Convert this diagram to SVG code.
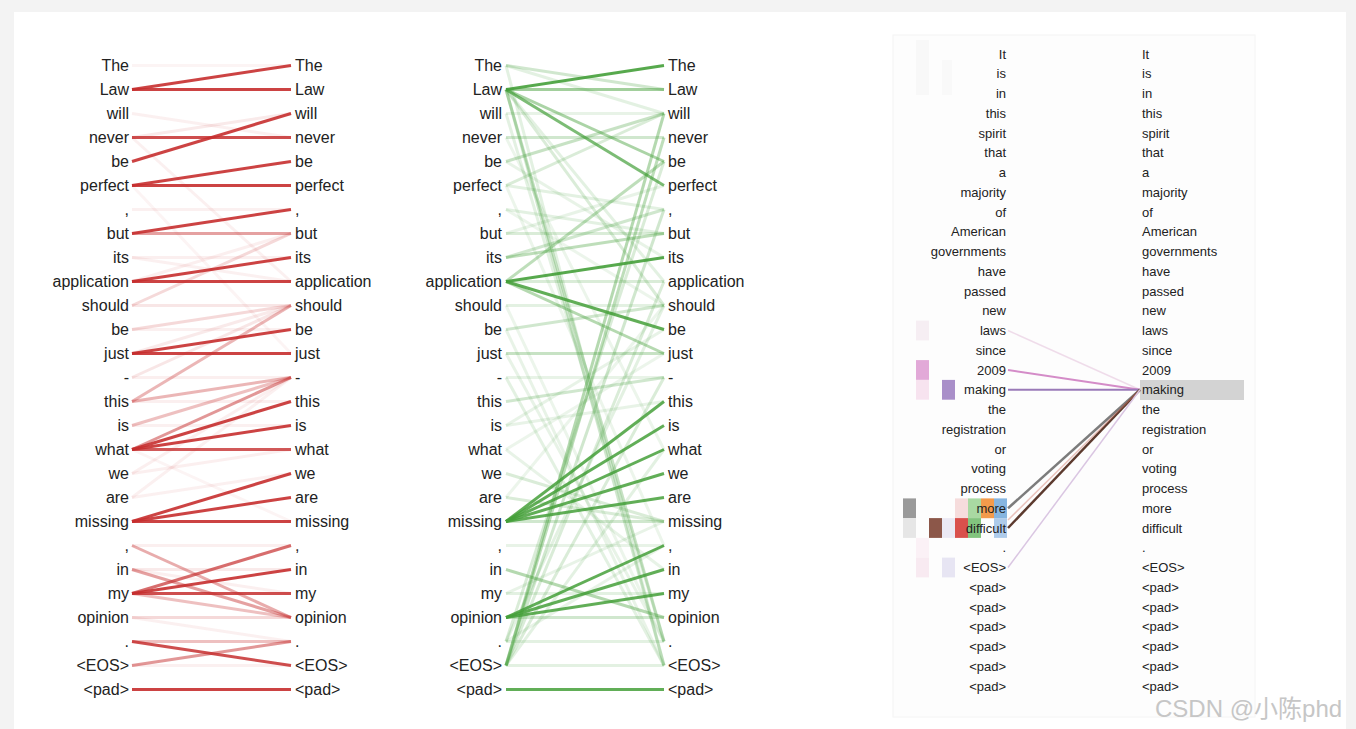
<svg xmlns="http://www.w3.org/2000/svg" width="1356" height="729" viewBox="0 0 1356 729">
<style>
text{font-family:"Liberation Sans",Arial,sans-serif;fill:#222}
.t{font-size:16px}
.s{font-size:13px}
.e{text-anchor:end}
.r{stroke:#c62f2f;stroke-width:3}
.g{stroke:#45a03a;stroke-width:3}
.wm{font-family:"Liberation Sans","Noto Sans CJK SC",sans-serif;font-size:24px;fill:#c6c6c6}
</style>
<rect x="0" y="0" width="1356" height="729" fill="#f3f3f3"/>
<rect x="14" y="12" width="1332" height="717" fill="#ffffff"/>
<rect x="893" y="35" width="362" height="682" fill="#fdfdfd" stroke="#f4f4f4"/>
<g id="heat">
<rect x="916" y="40" width="13" height="55" fill="#f8f8f8"/>
<rect x="942" y="60" width="10" height="35" fill="#f9f9f9"/>
<rect x="916" y="320.6" width="13" height="19.8" fill="#f6eef3"/>
<rect x="916" y="360.1" width="13" height="19.8" fill="#e2a9d8"/>
<rect x="916" y="379.9" width="13" height="19.8" fill="#f7e3ef"/>
<rect x="942" y="379.9" width="13" height="19.8" fill="#a98fc9"/>
<rect x="903" y="498.4" width="13" height="19.8" fill="#9a9a9a"/>
<rect x="955" y="498.4" width="13" height="19.8" fill="#f6dcdc"/>
<rect x="968" y="498.4" width="13" height="19.8" fill="#a9d9a2"/>
<rect x="981" y="498.4" width="13" height="19.8" fill="#f39b4c"/>
<rect x="994" y="498.4" width="13" height="19.8" fill="#86b5e0"/>
<rect x="903" y="518.1" width="13" height="19.8" fill="#e6e6e6"/>
<rect x="929" y="518.1" width="13" height="19.8" fill="#8c5749"/>
<rect x="942" y="518.1" width="13" height="19.8" fill="#ebe9f4"/>
<rect x="955" y="518.1" width="13" height="19.8" fill="#d9504c"/>
<rect x="968" y="518.1" width="13" height="19.8" fill="#82c47e"/>
<rect x="994" y="518.1" width="13" height="19.8" fill="#aecbea"/>
<rect x="916" y="537.9" width="13" height="19.8" fill="#fbf1f6"/>
<rect x="916" y="557.6" width="13" height="19.8" fill="#f8eaf1"/>
<rect x="942" y="557.6" width="13" height="19.8" fill="#e7e5f3"/>
<rect x="1140" y="380" width="104" height="20" fill="#d3d3d3"/>
</g>
<g id="connectors" fill="none">
<g id="red-lines">
<line x1="132" y1="89.5" x2="291" y2="65.5" class="r" stroke-opacity=".9"/>
<line x1="132" y1="89.5" x2="291" y2="89.5" class="r" stroke-opacity=".9"/>
<line x1="132" y1="137.5" x2="291" y2="137.5" class="r" stroke-opacity=".85"/>
<line x1="132" y1="161.5" x2="291" y2="113.5" class="r" stroke-opacity=".9"/>
<line x1="132" y1="185.5" x2="291" y2="161.5" class="r" stroke-opacity=".9"/>
<line x1="132" y1="185.5" x2="291" y2="185.5" class="r" stroke-opacity=".9"/>
<line x1="132" y1="233.5" x2="291" y2="209.5" class="r" stroke-opacity=".9"/>
<line x1="132" y1="281.5" x2="291" y2="257.5" class="r" stroke-opacity=".9"/>
<line x1="132" y1="281.5" x2="291" y2="281.5" class="r" stroke-opacity=".9"/>
<line x1="132" y1="353.5" x2="291" y2="329.5" class="r" stroke-opacity=".9"/>
<line x1="132" y1="353.5" x2="291" y2="353.5" class="r" stroke-opacity=".9"/>
<line x1="132" y1="449.5" x2="291" y2="401.5" class="r" stroke-opacity=".9"/>
<line x1="132" y1="449.5" x2="291" y2="425.5" class="r" stroke-opacity=".9"/>
<line x1="132" y1="449.5" x2="291" y2="449.5" class="r" stroke-opacity=".8"/>
<line x1="132" y1="521.5" x2="291" y2="473.5" class="r" stroke-opacity=".9"/>
<line x1="132" y1="521.5" x2="291" y2="497.5" class="r" stroke-opacity=".9"/>
<line x1="132" y1="521.5" x2="291" y2="521.5" class="r" stroke-opacity=".9"/>
<line x1="132" y1="593.5" x2="291" y2="545.5" class="r" stroke-opacity=".7"/>
<line x1="132" y1="593.5" x2="291" y2="569.5" class="r" stroke-opacity=".9"/>
<line x1="132" y1="593.5" x2="291" y2="593.5" class="r" stroke-opacity=".85"/>
<line x1="132" y1="641.5" x2="291" y2="665.5" class="r" stroke-opacity=".85"/>
<line x1="132" y1="689.5" x2="291" y2="689.5" class="r" stroke-opacity=".9"/>
<line x1="132" y1="233.5" x2="291" y2="233.5" class="r" stroke-opacity=".45"/>
<line x1="132" y1="449.5" x2="291" y2="377.5" class="r" stroke-opacity=".5"/>
<line x1="132" y1="665.5" x2="291" y2="641.5" class="r" stroke-opacity=".5"/>
<line x1="132" y1="545.5" x2="291" y2="617.5" class="r" stroke-opacity=".4"/>
<line x1="132" y1="569.5" x2="291" y2="617.5" class="r" stroke-opacity=".45"/>
<line x1="132" y1="593.5" x2="291" y2="617.5" class="r" stroke-opacity=".3"/>
<line x1="132" y1="401.5" x2="291" y2="377.5" class="r" stroke-opacity=".35"/>
<line x1="132" y1="425.5" x2="291" y2="377.5" class="r" stroke-opacity=".3"/>
<line x1="132" y1="401.5" x2="291" y2="305.5" class="r" stroke-opacity=".35"/>
<line x1="132" y1="641.5" x2="291" y2="641.5" class="r" stroke-opacity=".3"/>
<line x1="132" y1="305.5" x2="291" y2="233.5" class="r" stroke-opacity=".18"/>
<line x1="132" y1="305.5" x2="291" y2="305.5" class="r" stroke-opacity=".12"/>
<line x1="132" y1="329.5" x2="291" y2="305.5" class="r" stroke-opacity=".18"/>
<line x1="132" y1="257.5" x2="291" y2="257.5" class="r" stroke-opacity=".08"/>
<line x1="132" y1="617.5" x2="291" y2="617.5" class="r" stroke-opacity=".18"/>
<line x1="132" y1="377.5" x2="291" y2="305.5" class="r" stroke-opacity=".12"/>
<line x1="132" y1="353.5" x2="291" y2="305.5" class="r" stroke-opacity=".1"/>
<line x1="132" y1="137.5" x2="291" y2="113.5" class="r" stroke-opacity=".1"/>
<line x1="132" y1="113.5" x2="291" y2="137.5" class="r" stroke-opacity=".07"/>
<line x1="132" y1="65.5" x2="291" y2="65.5" class="r" stroke-opacity=".05"/>
<line x1="132" y1="473.5" x2="291" y2="449.5" class="r" stroke-opacity=".08"/>
<line x1="132" y1="497.5" x2="291" y2="473.5" class="r" stroke-opacity=".07"/>
<line x1="132" y1="377.5" x2="291" y2="377.5" class="r" stroke-opacity=".08"/>
<line x1="132" y1="545.5" x2="291" y2="545.5" class="r" stroke-opacity=".08"/>
<line x1="132" y1="569.5" x2="291" y2="569.5" class="r" stroke-opacity=".1"/>
<line x1="132" y1="209.5" x2="291" y2="209.5" class="r" stroke-opacity=".07"/>
<line x1="132" y1="425.5" x2="291" y2="425.5" class="r" stroke-opacity=".07"/>
<line x1="132" y1="137.5" x2="291" y2="281.5" class="r" stroke-opacity=".07"/>
<line x1="132" y1="185.5" x2="291" y2="353.5" class="r" stroke-opacity=".05"/>
<line x1="132" y1="473.5" x2="291" y2="377.5" class="r" stroke-opacity=".08"/>
<line x1="132" y1="497.5" x2="291" y2="377.5" class="r" stroke-opacity=".07"/>
<line x1="132" y1="449.5" x2="291" y2="521.5" class="r" stroke-opacity=".05"/>
<line x1="132" y1="617.5" x2="291" y2="641.5" class="r" stroke-opacity=".07"/>
<line x1="132" y1="665.5" x2="291" y2="665.5" class="r" stroke-opacity=".07"/>
<line x1="132" y1="569.5" x2="291" y2="593.5" class="r" stroke-opacity=".08"/>
<line x1="132" y1="329.5" x2="291" y2="329.5" class="r" stroke-opacity=".07"/>
<line x1="132" y1="401.5" x2="291" y2="401.5" class="r" stroke-opacity=".08"/>
<line x1="132" y1="281.5" x2="291" y2="233.5" class="r" stroke-opacity=".08"/>
<line x1="132" y1="257.5" x2="291" y2="281.5" class="r" stroke-opacity=".07"/>
</g>
<g id="green-lines">
<line x1="506" y1="89.5" x2="664" y2="65.5" class="g" stroke-opacity=".9"/>
<line x1="506" y1="281.5" x2="664" y2="257.5" class="g" stroke-opacity=".9"/>
<line x1="506" y1="281.5" x2="664" y2="329.5" class="g" stroke-opacity=".85"/>
<line x1="506" y1="521.5" x2="664" y2="401.5" class="g" stroke-opacity=".85"/>
<line x1="506" y1="521.5" x2="664" y2="425.5" class="g" stroke-opacity=".85"/>
<line x1="506" y1="521.5" x2="664" y2="449.5" class="g" stroke-opacity=".85"/>
<line x1="506" y1="521.5" x2="664" y2="473.5" class="g" stroke-opacity=".85"/>
<line x1="506" y1="521.5" x2="664" y2="497.5" class="g" stroke-opacity=".85"/>
<line x1="506" y1="617.5" x2="664" y2="545.5" class="g" stroke-opacity=".85"/>
<line x1="506" y1="617.5" x2="664" y2="569.5" class="g" stroke-opacity=".85"/>
<line x1="506" y1="617.5" x2="664" y2="593.5" class="g" stroke-opacity=".85"/>
<line x1="506" y1="689.5" x2="664" y2="689.5" class="g" stroke-opacity=".85"/>
<line x1="506" y1="89.5" x2="664" y2="185.5" class="g" stroke-opacity=".7"/>
<line x1="506" y1="89.5" x2="664" y2="89.5" class="g" stroke-opacity=".5"/>
<line x1="506" y1="89.5" x2="664" y2="161.5" class="g" stroke-opacity=".45"/>
<line x1="506" y1="281.5" x2="664" y2="353.5" class="g" stroke-opacity=".4"/>
<line x1="506" y1="665.5" x2="664" y2="113.5" class="g" stroke-opacity=".4"/>
<line x1="506" y1="665.5" x2="664" y2="137.5" class="g" stroke-opacity=".35"/>
<line x1="506" y1="281.5" x2="664" y2="161.5" class="g" stroke-opacity=".35"/>
<line x1="506" y1="257.5" x2="664" y2="233.5" class="g" stroke-opacity=".35"/>
<line x1="506" y1="569.5" x2="664" y2="617.5" class="g" stroke-opacity=".4"/>
<line x1="506" y1="161.5" x2="664" y2="113.5" class="g" stroke-opacity=".3"/>
<line x1="506" y1="89.5" x2="664" y2="641.5" class="g" stroke-opacity=".3"/>
<line x1="506" y1="89.5" x2="664" y2="665.5" class="g" stroke-opacity=".25"/>
<line x1="506" y1="89.5" x2="664" y2="305.5" class="g" stroke-opacity=".2"/>
<line x1="506" y1="89.5" x2="664" y2="281.5" class="g" stroke-opacity=".15"/>
<line x1="506" y1="65.5" x2="664" y2="89.5" class="g" stroke-opacity=".25"/>
<line x1="506" y1="65.5" x2="664" y2="113.5" class="g" stroke-opacity=".15"/>
<line x1="506" y1="137.5" x2="664" y2="137.5" class="g" stroke-opacity=".25"/>
<line x1="506" y1="185.5" x2="664" y2="113.5" class="g" stroke-opacity=".2"/>
<line x1="506" y1="233.5" x2="664" y2="233.5" class="g" stroke-opacity=".2"/>
<line x1="506" y1="257.5" x2="664" y2="209.5" class="g" stroke-opacity=".25"/>
<line x1="506" y1="305.5" x2="664" y2="305.5" class="g" stroke-opacity=".15"/>
<line x1="506" y1="329.5" x2="664" y2="305.5" class="g" stroke-opacity=".25"/>
<line x1="506" y1="353.5" x2="664" y2="353.5" class="g" stroke-opacity=".3"/>
<line x1="506" y1="401.5" x2="664" y2="377.5" class="g" stroke-opacity=".25"/>
<line x1="506" y1="425.5" x2="664" y2="401.5" class="g" stroke-opacity=".12"/>
<line x1="506" y1="521.5" x2="664" y2="521.5" class="g" stroke-opacity=".25"/>
<line x1="506" y1="617.5" x2="664" y2="617.5" class="g" stroke-opacity=".25"/>
<line x1="506" y1="641.5" x2="664" y2="641.5" class="g" stroke-opacity=".15"/>
<line x1="506" y1="665.5" x2="664" y2="209.5" class="g" stroke-opacity=".25"/>
<line x1="506" y1="665.5" x2="664" y2="281.5" class="g" stroke-opacity=".2"/>
<line x1="506" y1="665.5" x2="664" y2="377.5" class="g" stroke-opacity=".2"/>
<line x1="506" y1="641.5" x2="664" y2="161.5" class="g" stroke-opacity=".2"/>
<line x1="506" y1="641.5" x2="664" y2="305.5" class="g" stroke-opacity=".15"/>
<line x1="506" y1="65.5" x2="664" y2="665.5" class="g" stroke-opacity=".15"/>
<line x1="506" y1="113.5" x2="664" y2="641.5" class="g" stroke-opacity=".15"/>
<line x1="506" y1="377.5" x2="664" y2="665.5" class="g" stroke-opacity=".15"/>
<line x1="506" y1="473.5" x2="664" y2="521.5" class="g" stroke-opacity=".2"/>
<line x1="506" y1="497.5" x2="664" y2="521.5" class="g" stroke-opacity=".2"/>
<line x1="506" y1="449.5" x2="664" y2="569.5" class="g" stroke-opacity=".12"/>
<line x1="506" y1="545.5" x2="664" y2="545.5" class="g" stroke-opacity=".12"/>
<line x1="506" y1="593.5" x2="664" y2="593.5" class="g" stroke-opacity=".15"/>
<line x1="506" y1="665.5" x2="664" y2="665.5" class="g" stroke-opacity=".15"/>
<line x1="506" y1="329.5" x2="664" y2="665.5" class="g" stroke-opacity=".12"/>
<line x1="506" y1="161.5" x2="664" y2="257.5" class="g" stroke-opacity=".12"/>
<line x1="506" y1="209.5" x2="664" y2="233.5" class="g" stroke-opacity=".15"/>
<line x1="506" y1="137.5" x2="664" y2="449.5" class="g" stroke-opacity=".1"/>
<line x1="506" y1="185.5" x2="664" y2="545.5" class="g" stroke-opacity=".1"/>
<line x1="506" y1="305.5" x2="664" y2="641.5" class="g" stroke-opacity=".1"/>
<line x1="506" y1="353.5" x2="664" y2="641.5" class="g" stroke-opacity=".12"/>
<line x1="506" y1="425.5" x2="664" y2="329.5" class="g" stroke-opacity=".12"/>
<line x1="506" y1="449.5" x2="664" y2="353.5" class="g" stroke-opacity=".1"/>
<line x1="506" y1="665.5" x2="664" y2="449.5" class="g" stroke-opacity=".15"/>
<line x1="506" y1="641.5" x2="664" y2="545.5" class="g" stroke-opacity=".12"/>
<line x1="506" y1="377.5" x2="664" y2="377.5" class="g" stroke-opacity=".12"/>
<line x1="506" y1="185.5" x2="664" y2="209.5" class="g" stroke-opacity=".15"/>
<line x1="506" y1="281.5" x2="664" y2="281.5" class="g" stroke-opacity=".2"/>
<line x1="506" y1="113.5" x2="664" y2="113.5" class="g" stroke-opacity=".12"/>
<line x1="506" y1="209.5" x2="664" y2="305.5" class="g" stroke-opacity=".1"/>
<line x1="506" y1="233.5" x2="664" y2="185.5" class="g" stroke-opacity=".12"/>
<line x1="506" y1="497.5" x2="664" y2="305.5" class="g" stroke-opacity=".1"/>
<line x1="506" y1="593.5" x2="664" y2="521.5" class="g" stroke-opacity=".12"/>
</g>
<g id="right-lines">
<line x1="1008" y1="330.5" x2="1140" y2="389.75" stroke="#e6c6de" stroke-width="1.5" stroke-opacity=".6"/>
<line x1="1008" y1="370" x2="1140" y2="389.75" stroke="#d48cc8" stroke-width="2"/>
<line x1="1008" y1="389.75" x2="1140" y2="389.75" stroke="#9a7ab8" stroke-width="2"/>
<line x1="1008" y1="508.25" x2="1140" y2="389.75" stroke="#7c7c7c" stroke-width="2.5"/>
<line x1="1008" y1="528" x2="1140" y2="389.75" stroke="#5c3a2e" stroke-width="2.5"/>
<line x1="1008" y1="520" x2="1140" y2="389.75" stroke="#d27a6a" stroke-width="1.5" stroke-opacity=".45"/>
<line x1="1008" y1="567.5" x2="1140" y2="389.75" stroke="#dac6e2" stroke-width="1.5"/>
</g>
</g>
<g id="red-panel" class="t">
<g id="rl0"><text class="e" x="129" y="71">The</text></g>
<g id="rl1"><text class="e" x="129" y="95">Law</text></g>
<g id="rl2"><text class="e" x="129" y="119">will</text></g>
<g id="rl3"><text class="e" x="129" y="143">never</text></g>
<g id="rl4"><text class="e" x="129" y="167">be</text></g>
<g id="rl5"><text class="e" x="129" y="191">perfect</text></g>
<g id="rl6"><text class="e" x="129" y="215">,</text></g>
<g id="rl7"><text class="e" x="129" y="239">but</text></g>
<g id="rl8"><text class="e" x="129" y="263">its</text></g>
<g id="rl9"><text class="e" x="129" y="287">application</text></g>
<g id="rl10"><text class="e" x="129" y="311">should</text></g>
<g id="rl11"><text class="e" x="129" y="335">be</text></g>
<g id="rl12"><text class="e" x="129" y="359">just</text></g>
<g id="rl13"><text class="e" x="129" y="383">-</text></g>
<g id="rl14"><text class="e" x="129" y="407">this</text></g>
<g id="rl15"><text class="e" x="129" y="431">is</text></g>
<g id="rl16"><text class="e" x="129" y="455">what</text></g>
<g id="rl17"><text class="e" x="129" y="479">we</text></g>
<g id="rl18"><text class="e" x="129" y="503">are</text></g>
<g id="rl19"><text class="e" x="129" y="527">missing</text></g>
<g id="rl20"><text class="e" x="129" y="551">,</text></g>
<g id="rl21"><text class="e" x="129" y="575">in</text></g>
<g id="rl22"><text class="e" x="129" y="599">my</text></g>
<g id="rl23"><text class="e" x="129" y="623">opinion</text></g>
<g id="rl24"><text class="e" x="129" y="647">.</text></g>
<g id="rl25"><text class="e" x="129" y="671">&lt;EOS&gt;</text></g>
<g id="rl26"><text class="e" x="129" y="695">&lt;pad&gt;</text></g>
<g id="rr0"><text x="295" y="71">The</text></g>
<g id="rr1"><text x="295" y="95">Law</text></g>
<g id="rr2"><text x="295" y="119">will</text></g>
<g id="rr3"><text x="295" y="143">never</text></g>
<g id="rr4"><text x="295" y="167">be</text></g>
<g id="rr5"><text x="295" y="191">perfect</text></g>
<g id="rr6"><text x="295" y="215">,</text></g>
<g id="rr7"><text x="295" y="239">but</text></g>
<g id="rr8"><text x="295" y="263">its</text></g>
<g id="rr9"><text x="295" y="287">application</text></g>
<g id="rr10"><text x="295" y="311">should</text></g>
<g id="rr11"><text x="295" y="335">be</text></g>
<g id="rr12"><text x="295" y="359">just</text></g>
<g id="rr13"><text x="295" y="383">-</text></g>
<g id="rr14"><text x="295" y="407">this</text></g>
<g id="rr15"><text x="295" y="431">is</text></g>
<g id="rr16"><text x="295" y="455">what</text></g>
<g id="rr17"><text x="295" y="479">we</text></g>
<g id="rr18"><text x="295" y="503">are</text></g>
<g id="rr19"><text x="295" y="527">missing</text></g>
<g id="rr20"><text x="295" y="551">,</text></g>
<g id="rr21"><text x="295" y="575">in</text></g>
<g id="rr22"><text x="295" y="599">my</text></g>
<g id="rr23"><text x="295" y="623">opinion</text></g>
<g id="rr24"><text x="295" y="647">.</text></g>
<g id="rr25"><text x="295" y="671">&lt;EOS&gt;</text></g>
<g id="rr26"><text x="295" y="695">&lt;pad&gt;</text></g>
</g>
<g id="green-panel" class="t">
<g id="gl0"><text class="e" x="502" y="71">The</text></g>
<g id="gl1"><text class="e" x="502" y="95">Law</text></g>
<g id="gl2"><text class="e" x="502" y="119">will</text></g>
<g id="gl3"><text class="e" x="502" y="143">never</text></g>
<g id="gl4"><text class="e" x="502" y="167">be</text></g>
<g id="gl5"><text class="e" x="502" y="191">perfect</text></g>
<g id="gl6"><text class="e" x="502" y="215">,</text></g>
<g id="gl7"><text class="e" x="502" y="239">but</text></g>
<g id="gl8"><text class="e" x="502" y="263">its</text></g>
<g id="gl9"><text class="e" x="502" y="287">application</text></g>
<g id="gl10"><text class="e" x="502" y="311">should</text></g>
<g id="gl11"><text class="e" x="502" y="335">be</text></g>
<g id="gl12"><text class="e" x="502" y="359">just</text></g>
<g id="gl13"><text class="e" x="502" y="383">-</text></g>
<g id="gl14"><text class="e" x="502" y="407">this</text></g>
<g id="gl15"><text class="e" x="502" y="431">is</text></g>
<g id="gl16"><text class="e" x="502" y="455">what</text></g>
<g id="gl17"><text class="e" x="502" y="479">we</text></g>
<g id="gl18"><text class="e" x="502" y="503">are</text></g>
<g id="gl19"><text class="e" x="502" y="527">missing</text></g>
<g id="gl20"><text class="e" x="502" y="551">,</text></g>
<g id="gl21"><text class="e" x="502" y="575">in</text></g>
<g id="gl22"><text class="e" x="502" y="599">my</text></g>
<g id="gl23"><text class="e" x="502" y="623">opinion</text></g>
<g id="gl24"><text class="e" x="502" y="647">.</text></g>
<g id="gl25"><text class="e" x="502" y="671">&lt;EOS&gt;</text></g>
<g id="gl26"><text class="e" x="502" y="695">&lt;pad&gt;</text></g>
<g id="gr0"><text x="668" y="71">The</text></g>
<g id="gr1"><text x="668" y="95">Law</text></g>
<g id="gr2"><text x="668" y="119">will</text></g>
<g id="gr3"><text x="668" y="143">never</text></g>
<g id="gr4"><text x="668" y="167">be</text></g>
<g id="gr5"><text x="668" y="191">perfect</text></g>
<g id="gr6"><text x="668" y="215">,</text></g>
<g id="gr7"><text x="668" y="239">but</text></g>
<g id="gr8"><text x="668" y="263">its</text></g>
<g id="gr9"><text x="668" y="287">application</text></g>
<g id="gr10"><text x="668" y="311">should</text></g>
<g id="gr11"><text x="668" y="335">be</text></g>
<g id="gr12"><text x="668" y="359">just</text></g>
<g id="gr13"><text x="668" y="383">-</text></g>
<g id="gr14"><text x="668" y="407">this</text></g>
<g id="gr15"><text x="668" y="431">is</text></g>
<g id="gr16"><text x="668" y="455">what</text></g>
<g id="gr17"><text x="668" y="479">we</text></g>
<g id="gr18"><text x="668" y="503">are</text></g>
<g id="gr19"><text x="668" y="527">missing</text></g>
<g id="gr20"><text x="668" y="551">,</text></g>
<g id="gr21"><text x="668" y="575">in</text></g>
<g id="gr22"><text x="668" y="599">my</text></g>
<g id="gr23"><text x="668" y="623">opinion</text></g>
<g id="gr24"><text x="668" y="647">.</text></g>
<g id="gr25"><text x="668" y="671">&lt;EOS&gt;</text></g>
<g id="gr26"><text x="668" y="695">&lt;pad&gt;</text></g>
</g>
<g id="right-panel" class="s">
<g id="pl0"><text class="e" x="1006" y="58.5">It</text></g>
<g id="pl1"><text class="e" x="1006" y="78.25">is</text></g>
<g id="pl2"><text class="e" x="1006" y="98">in</text></g>
<g id="pl3"><text class="e" x="1006" y="117.75">this</text></g>
<g id="pl4"><text class="e" x="1006" y="137.5">spirit</text></g>
<g id="pl5"><text class="e" x="1006" y="157.25">that</text></g>
<g id="pl6"><text class="e" x="1006" y="177">a</text></g>
<g id="pl7"><text class="e" x="1006" y="196.75">majority</text></g>
<g id="pl8"><text class="e" x="1006" y="216.5">of</text></g>
<g id="pl9"><text class="e" x="1006" y="236.25">American</text></g>
<g id="pl10"><text class="e" x="1006" y="256">governments</text></g>
<g id="pl11"><text class="e" x="1006" y="275.75">have</text></g>
<g id="pl12"><text class="e" x="1006" y="295.5">passed</text></g>
<g id="pl13"><text class="e" x="1006" y="315.25">new</text></g>
<g id="pl14"><text class="e" x="1006" y="335">laws</text></g>
<g id="pl15"><text class="e" x="1006" y="354.75">since</text></g>
<g id="pl16"><text class="e" x="1006" y="374.5">2009</text></g>
<g id="pl17"><text class="e" x="1006" y="394.25">making</text></g>
<g id="pl18"><text class="e" x="1006" y="414">the</text></g>
<g id="pl19"><text class="e" x="1006" y="433.75">registration</text></g>
<g id="pl20"><text class="e" x="1006" y="453.5">or</text></g>
<g id="pl21"><text class="e" x="1006" y="473.25">voting</text></g>
<g id="pl22"><text class="e" x="1006" y="493">process</text></g>
<g id="pl23"><text class="e" x="1006" y="512.75">more</text></g>
<g id="pl24"><text class="e" x="1006" y="532.5">difficult</text></g>
<g id="pl25"><text class="e" x="1006" y="552.25">.</text></g>
<g id="pl26"><text class="e" x="1006" y="572">&lt;EOS&gt;</text></g>
<g id="pl27"><text class="e" x="1006" y="591.75">&lt;pad&gt;</text></g>
<g id="pl28"><text class="e" x="1006" y="611.5">&lt;pad&gt;</text></g>
<g id="pl29"><text class="e" x="1006" y="631.25">&lt;pad&gt;</text></g>
<g id="pl30"><text class="e" x="1006" y="651">&lt;pad&gt;</text></g>
<g id="pl31"><text class="e" x="1006" y="670.75">&lt;pad&gt;</text></g>
<g id="pl32"><text class="e" x="1006" y="690.5">&lt;pad&gt;</text></g>
<g id="pr0"><text x="1142" y="58.5">It</text></g>
<g id="pr1"><text x="1142" y="78.25">is</text></g>
<g id="pr2"><text x="1142" y="98">in</text></g>
<g id="pr3"><text x="1142" y="117.75">this</text></g>
<g id="pr4"><text x="1142" y="137.5">spirit</text></g>
<g id="pr5"><text x="1142" y="157.25">that</text></g>
<g id="pr6"><text x="1142" y="177">a</text></g>
<g id="pr7"><text x="1142" y="196.75">majority</text></g>
<g id="pr8"><text x="1142" y="216.5">of</text></g>
<g id="pr9"><text x="1142" y="236.25">American</text></g>
<g id="pr10"><text x="1142" y="256">governments</text></g>
<g id="pr11"><text x="1142" y="275.75">have</text></g>
<g id="pr12"><text x="1142" y="295.5">passed</text></g>
<g id="pr13"><text x="1142" y="315.25">new</text></g>
<g id="pr14"><text x="1142" y="335">laws</text></g>
<g id="pr15"><text x="1142" y="354.75">since</text></g>
<g id="pr16"><text x="1142" y="374.5">2009</text></g>
<g id="pr17"><text x="1142" y="394.25">making</text></g>
<g id="pr18"><text x="1142" y="414">the</text></g>
<g id="pr19"><text x="1142" y="433.75">registration</text></g>
<g id="pr20"><text x="1142" y="453.5">or</text></g>
<g id="pr21"><text x="1142" y="473.25">voting</text></g>
<g id="pr22"><text x="1142" y="493">process</text></g>
<g id="pr23"><text x="1142" y="512.75">more</text></g>
<g id="pr24"><text x="1142" y="532.5">difficult</text></g>
<g id="pr25"><text x="1142" y="552.25">.</text></g>
<g id="pr26"><text x="1142" y="572">&lt;EOS&gt;</text></g>
<g id="pr27"><text x="1142" y="591.75">&lt;pad&gt;</text></g>
<g id="pr28"><text x="1142" y="611.5">&lt;pad&gt;</text></g>
<g id="pr29"><text x="1142" y="631.25">&lt;pad&gt;</text></g>
<g id="pr30"><text x="1142" y="651">&lt;pad&gt;</text></g>
<g id="pr31"><text x="1142" y="670.75">&lt;pad&gt;</text></g>
<g id="pr32"><text x="1142" y="690.5">&lt;pad&gt;</text></g>
</g>
<text class="wm" x="1155" y="717">CSDN @小陈phd</text>
</svg>
